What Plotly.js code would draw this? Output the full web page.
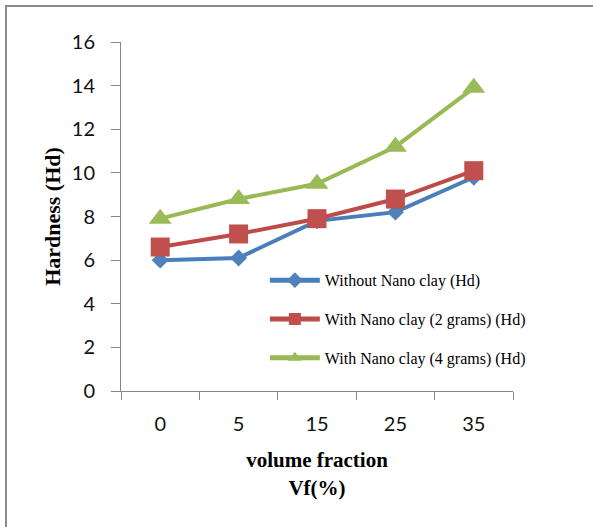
<!DOCTYPE html>
<html>
<head>
<meta charset="utf-8">
<script src="https://cdn.plot.ly/plotly-3.0.1.min.js"></script>
<style>
  html, body { margin: 0; padding: 0; background: #fff; }
  #wrap { position: relative; width: 593px; height: 527px; overflow: hidden; }
  #frame { position: absolute; left: 5px; top: 5px; width: 700px; height: 700px; border-left: 2px solid #8a8a8a; border-top: 2px solid #8a8a8a; box-sizing: border-box; pointer-events: none; z-index: 5; }
  #chart { position: absolute; left: 0; top: 0; width: 593px; height: 527px; }
</style>
</head>
<body>
<div id="wrap">
  <div id="chart"></div>
  <div id="frame"></div>
</div>
<script>
const categories = ["0", "5", "15", "25", "35"];
const seriesNames = ["Without Nano clay (Hd)", "With Nano clay (2 grams) (Hd)", "With Nano clay (4 grams) (Hd)"];
const withoutNanoClay = [6.0, 6.1, 7.8, 8.2, 9.8];
const nanoClay2g = [6.6, 7.2, 7.9, 8.8, 10.1];
const nanoClay4g = [7.9, 8.8, 9.5, 11.2, 13.9];
const yTickVals = [0, 2, 4, 6, 8, 10, 12, 14, 16];

const lineColors = ["#4A7EBB", "#BE4B48", "#98B954"];
const markerColors = ["#4F81BD", "#C0504D", "#9BBB59"];
const symbols = ["diamond", "square", "triangle-up"];
const sizes = [13, 19, 20];
const allSeries = [withoutNanoClay, nanoClay2g, nanoClay4g];

const traces = allSeries.map((vals, i) => ({
  type: "scatter",
  mode: "lines+markers",
  x: categories,
  y: vals,
  name: seriesNames[i],
  legendgroup: "g" + i,
  line: { color: lineColors[i], width: 4 },
  marker: { symbol: symbols[i], size: sizes[i], color: markerColors[i], line: { width: 0 } }
}));

const layout = {
  width: 593,
  height: 527,
  margin: { l: 121, r: 80, t: 42, b: 136 },
  paper_bgcolor: "#ffffff",
  plot_bgcolor: "#ffffff",
  showlegend: true,
  legend: {
    x: 0.367, y: 0.366, xanchor: "left", yanchor: "top",
    font: { family: "Liberation Serif, Times New Roman, serif", size: 16, color: "#000" },
    tracegroupgap: 15,
    itemwidth: 50,
    itemsizing: "constant",
    bgcolor: "rgba(0,0,0,0)"
  },
  xaxis: {
    type: "category",
    range: [-0.5, 4.5],
    tickson: "boundaries",
    ticks: "outside",
    ticklen: 8,
    tickcolor: "#868686",
    showline: true,
    linecolor: "#868686",
    linewidth: 1,
    showgrid: false,
    zeroline: false,
    ticklabelstandoff: 15,
    tickfont: { family: "Lato, Open Sans, sans-serif", size: 20, color: "#111" },
    title: {
      text: "<b>volume fraction<br>Vf(%)</b>",
      font: { family: "Liberation Serif, Times New Roman, serif", size: 21, color: "#000" },
      standoff: 18
    },
    fixedrange: true
  },
  yaxis: {
    range: [0, 16],
    tickvals: yTickVals,
    ticks: "outside",
    ticklen: 9,
    tickcolor: "#868686",
    showline: true,
    linecolor: "#868686",
    linewidth: 1,
    showgrid: false,
    zeroline: false,
    ticklabelstandoff: 12,
    tickfont: { family: "Lato, Open Sans, sans-serif", size: 20, color: "#111" },
    title: {
      text: "<b>Hardness (Hd)</b>",
      font: { family: "Liberation Serif, Times New Roman, serif", size: 22, color: "#000" },
      standoff: 5
    },
    fixedrange: true
  }
};

Plotly.newPlot("chart", traces, layout, { displayModeBar: false, staticPlot: true });
</script>
</body>
</html>
